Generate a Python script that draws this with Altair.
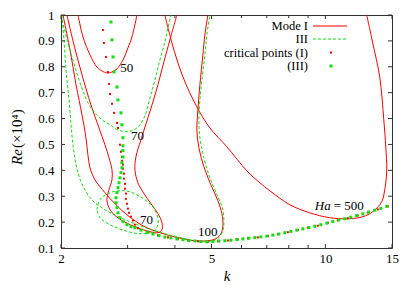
import altair as alt
import pandas as pd

W, H = 331, 233
FONT = "Liberation Serif, Times New Roman, serif"
RED = "#ff0000"
GREEN = "#11dd11"
AXC = "#333333"

# ---- axis ticks ----
x_labels = [2, 5, 10, 15]
x_minor = [3, 4, 6, 7, 8, 9]
y_ticks = [0.1, 0.2, 0.3, 0.4, 0.5, 0.6, 0.7, 0.8, 0.9, 1.0]

# ---- Mode I neutral curves (red, solid) ----
ha50_I_k = [2.218, 2.287, 2.386, 2.488, 2.566, 2.645, 2.728, 2.812, 2.916, 3.006, 3.080, 3.176]
ha50_I_re = [1.0, 0.915, 0.846, 0.799, 0.784, 0.776, 0.780, 0.792, 0.826, 0.873, 0.915, 1.0]

ha70_I_k = [2.074, 2.165, 2.273, 2.400, 2.520, 2.613, 2.678, 2.728, 2.728, 2.678, 2.645, 2.678, 2.762,
            2.934, 3.176, 3.437, 3.608, 3.697, 3.697, 3.608, 3.458, 3.314, 3.195, 3.137, 3.156, 3.254,
            3.395, 3.565, 3.742, 3.881, 4.050]
ha70_I_re = [1.0, 0.884, 0.769, 0.653, 0.564, 0.499, 0.449, 0.402, 0.364, 0.325, 0.287, 0.256, 0.229,
             0.202, 0.179, 0.163, 0.159, 0.171, 0.198, 0.233, 0.271, 0.310, 0.352, 0.402, 0.452, 0.518,
             0.603, 0.703, 0.819, 0.904, 1.0]

ha100_I_k = [2.024, 2.113, 2.192, 2.273, 2.328, 2.356, 2.386, 2.458, 2.613, 2.795, 3.006, 3.293, 3.652,
             4.075, 4.519, 4.891, 5.134, 5.293, 5.358, 5.325, 5.197, 4.981, 4.773, 4.630, 4.574, 4.602,
             4.658, 4.744, 4.802, 4.891]
ha100_I_re = [1.0, 0.865, 0.730, 0.614, 0.526, 0.460, 0.410, 0.364, 0.314, 0.267, 0.225, 0.186, 0.159,
              0.140, 0.128, 0.128, 0.136, 0.155, 0.186, 0.233, 0.283, 0.344, 0.414, 0.487, 0.556, 0.634,
              0.730, 0.846, 0.923, 1.0]

ha500_I_k = [3.765, 3.929, 4.201, 4.574, 4.950, 5.490, 6.200, 6.710, 7.130, 8.054, 9.094, 10.27, 11.60,
             12.56, 13.34, 14.09, 14.35, 14.53, 14.44, 14.27, 13.92, 13.34, 12.86]
ha500_I_re = [1.0, 0.892, 0.761, 0.645, 0.564, 0.491, 0.398, 0.352, 0.321, 0.267, 0.236, 0.217, 0.213,
              0.221, 0.240, 0.279, 0.325, 0.402, 0.491, 0.595, 0.761, 0.892, 1.0]

# ---- Mode III neutral curves (green, dashed) ----
ha50_III_k = [2.000, 2.037, 2.087, 2.151, 2.218, 2.287, 2.356, 2.458, 2.566, 2.695, 2.829, 2.988, 3.118,
              3.234, 3.334, 3.437, 3.543, 3.652, 3.765, 3.835, 3.905]
ha50_III_re = [1.0, 0.950, 0.892, 0.826, 0.761, 0.707, 0.661, 0.622, 0.595, 0.576, 0.556, 0.549, 0.556,
               0.576, 0.610, 0.680, 0.749, 0.826, 0.896, 0.950, 1.0]

ha70_III_k = [2.488, 2.535, 2.661, 2.829, 3.043, 3.273, 3.479, 3.586, 3.608, 3.500, 3.234, 2.952, 2.695,
              2.535, 2.488]
ha70_III_re = [0.248, 0.287, 0.310, 0.321, 0.317, 0.294, 0.263, 0.229, 0.190, 0.163, 0.155, 0.167, 0.190,
               0.217, 0.248]

ha100_III_k = [2.012, 2.037, 2.062, 2.100, 2.126, 2.151, 2.192, 2.259, 2.386, 2.535, 2.728, 2.988, 3.334,
               3.765, 4.252, 4.658, 5.042, 5.229, 5.358, 5.391, 5.358, 5.197, 4.950, 4.773, 4.658, 4.630,
               4.658, 4.715, 4.802, 4.861, 4.950]
ha100_III_re = [1.0, 0.904, 0.788, 0.672, 0.576, 0.499, 0.422, 0.356, 0.294, 0.260, 0.233, 0.206, 0.179,
                0.155, 0.136, 0.124, 0.128, 0.140, 0.167, 0.202, 0.248, 0.298, 0.371, 0.449, 0.526, 0.595,
                0.672, 0.749, 0.846, 0.923, 1.0]

# ---- critical points ----
crit_I_k = [2.582, 2.597, 2.629, 2.661, 2.678, 2.695, 2.728, 2.762, 2.812, 2.829, 2.863, 2.881, 2.898,
            2.898, 2.916, 2.916, 2.934, 2.934, 2.952, 2.952, 2.970, 2.970, 2.988, 3.006, 3.025, 3.062,
            3.099, 3.137,
            3.195, 3.395, 3.608, 3.835, 4.075, 4.330, 4.602, 4.891, 5.197, 5.523, 5.870, 6.238, 6.629,
            7.045, 7.487, 7.956, 8.455, 8.985, 9.549, 10.15, 10.78, 11.46, 12.18, 12.94, 13.76, 14.62]
crit_I_re = [0.942, 0.892, 0.838, 0.780, 0.734, 0.695, 0.657, 0.622, 0.583, 0.564, 0.499, 0.472, 0.452,
             0.437, 0.422, 0.406, 0.387, 0.368, 0.348, 0.329, 0.310, 0.290, 0.271, 0.252, 0.236, 0.221,
             0.206, 0.190,
             0.176, 0.160, 0.149, 0.141, 0.135, 0.130, 0.126, 0.124, 0.126, 0.129, 0.133, 0.137, 0.141,
             0.146, 0.153, 0.161, 0.170, 0.178, 0.186, 0.197, 0.207, 0.215, 0.226, 0.237, 0.249, 0.261]

crit_III_k = [2.711, 2.728, 2.745, 2.762, 2.812, 2.829, 2.881, 2.898, 2.916, 2.916, 2.916, 2.916, 2.898,
              2.898, 2.881, 2.863, 2.846, 2.829, 2.812, 2.795, 2.795, 2.812, 2.829, 2.863, 2.916, 2.988,
              3.062,
              3.137, 3.254, 3.375, 3.500, 3.630, 3.765, 3.905, 4.050, 4.201, 4.357, 4.519, 4.687, 4.861,
              5.042, 5.229, 5.424, 5.625, 5.834, 6.051, 6.276, 6.509, 6.751, 7.002, 7.262, 7.532, 7.812,
              8.102, 8.404, 8.716, 9.040, 9.376, 9.725, 10.09, 10.46, 10.85, 11.25, 11.67, 12.10, 12.56,
              13.02, 13.50, 14.01, 14.53]
crit_III_re = [0.973, 0.904, 0.838, 0.780, 0.722, 0.672, 0.622, 0.576, 0.526, 0.495, 0.476, 0.452, 0.429,
               0.410, 0.391, 0.371, 0.352, 0.333, 0.314, 0.294, 0.275, 0.256, 0.236, 0.217, 0.202, 0.190,
               0.182,
               0.178, 0.169, 0.161, 0.154, 0.148, 0.142, 0.139, 0.135, 0.132, 0.129, 0.127, 0.125, 0.124,
               0.125, 0.127, 0.128, 0.130, 0.133, 0.135, 0.138, 0.140, 0.143, 0.146, 0.150, 0.154, 0.159,
               0.164, 0.169, 0.174, 0.179, 0.184, 0.190, 0.196, 0.202, 0.208, 0.213, 0.219, 0.225, 0.232,
               0.239, 0.246, 0.253, 0.261]

# ---- curve labels ----
label_text = ["50", "70", "70", "100"]
label_k = [2.985, 3.185, 3.364, 4.89]
label_re = [0.796, 0.533, 0.209, 0.163]
ha_label_k = [10.33]
ha_label_re = [0.262]

legend_labels = ["Mode I", "III", "critical points (I)", "(III)"]


def curve_frame(name, ks, res):
    return pd.DataFrame({"k": ks, "Re": res, "curve": name, "i": list(range(len(ks)))})


lines_I = pd.concat([
    curve_frame("50", ha50_I_k, ha50_I_re),
    curve_frame("70", ha70_I_k, ha70_I_re),
    curve_frame("100", ha100_I_k, ha100_I_re),
    curve_frame("500", ha500_I_k, ha500_I_re),
])
lines_III = pd.concat([
    curve_frame("50", ha50_III_k, ha50_III_re),
    curve_frame("70", ha70_III_k, ha70_III_re),
    curve_frame("100", ha100_III_k, ha100_III_re),
])
crit_I = pd.DataFrame({"k": crit_I_k, "Re": crit_I_re})
crit_III = pd.DataFrame({"k": crit_III_k, "Re": crit_III_re})
labels = pd.DataFrame({"k": label_k, "Re": label_re, "text": label_text})
ha_lab = pd.DataFrame({"k": ha_label_k, "Re": ha_label_re})

xscale = alt.Scale(type="log", domain=[2, 15], nice=False)
yscale = alt.Scale(domain=[0.1, 1.0], nice=False, zero=False)

xaxis = alt.Axis(values=x_labels, format="d", ticks=False, grid=False, domain=False,
                 labelFont=FONT, labelFontSize=13, labelColor="black", labelPadding=4,
                 labelFlush=False, title="k", titleFont=FONT, titleFontSize=15,
                 titleFontStyle="italic", titleFontWeight="normal", titleColor="black",
                 titlePadding=3)
yaxis = alt.Axis(values=y_ticks,
                 labelExpr="datum.value > 0.999 ? '1' : format(datum.value, '.1f')",
                 ticks=False, grid=False, domain=False, labelFont=FONT, labelFontSize=13,
                 labelColor="black", labelPadding=7, title=None)

X = alt.X("k:Q", scale=xscale, axis=xaxis)
Y = alt.Y("Re:Q", scale=yscale, axis=yaxis)

red_lines = alt.Chart(lines_I).mark_line(
    color=RED, strokeWidth=1, interpolate="catmull-rom", clip=True
).encode(x=X, y=Y, detail="curve:N", order="i:Q")

green_lines = alt.Chart(lines_III).mark_line(
    color=GREEN, strokeWidth=1, strokeDash=[3, 2], interpolate="catmull-rom", clip=True
).encode(x=X, y=Y, detail="curve:N", order="i:Q")

red_pts = alt.Chart(crit_I).mark_square(color=RED, size=4, opacity=1).encode(x=X, y=Y)
green_pts = alt.Chart(crit_III).mark_square(color=GREEN, size=9, opacity=1).encode(x=X, y=Y)

lab_layer = alt.Chart(labels).mark_text(
    font=FONT, fontSize=13, color="black", align="center", baseline="middle"
).encode(x=X, y=Y, text="text:N")
ha_it = alt.Chart(ha_lab).mark_text(
    font=FONT, fontSize=13, fontStyle="italic", color="black", align="right", baseline="middle", text="Ha"
).encode(x=X, y=Y)
ha_eq = alt.Chart(ha_lab).mark_text(
    font=FONT, fontSize=13, color="black", align="left", baseline="middle", text="= 500", dx=3
).encode(x=X, y=Y)

# ticks (inward, mirrored)
ytick_df = pd.DataFrame({"Re": y_ticks})
xmaj_df = pd.DataFrame({"k": x_labels})
xmin_df = pd.DataFrame({"k": x_minor})
tick_layers = [
    alt.Chart(ytick_df).mark_rule(color=AXC, strokeWidth=1).encode(y=Y, x=alt.value(0), x2=alt.value(4)),
    alt.Chart(ytick_df).mark_rule(color=AXC, strokeWidth=1).encode(y=Y, x=alt.value(W - 4), x2=alt.value(W)),
    alt.Chart(xmaj_df).mark_rule(color=AXC, strokeWidth=1).encode(x=X, y=alt.value(H - 4), y2=alt.value(H)),
    alt.Chart(xmaj_df).mark_rule(color=AXC, strokeWidth=1).encode(x=X, y=alt.value(0), y2=alt.value(4)),
    alt.Chart(xmin_df).mark_rule(color=AXC, strokeWidth=1).encode(x=X, y=alt.value(H - 3), y2=alt.value(H)),
    alt.Chart(xmin_df).mark_rule(color=AXC, strokeWidth=1).encode(x=X, y=alt.value(0), y2=alt.value(3)),
]

one = pd.DataFrame({"a": [0]})
ytitle_re = alt.Chart(one).mark_text(
    text="Re", angle=270, align="left", baseline="middle", font=FONT, fontSize=15,
    fontStyle="italic", color="black"
).encode(x=alt.value(-44), y=alt.value(150))
ytitle_rest = alt.Chart(one).mark_text(
    text="(×10⁴)", angle=270, align="left", baseline="middle", font=FONT, fontSize=15, color="black"
).encode(x=alt.value(-44), y=alt.value(133))

# custom legend (gnuplot style: text left of the sample)
leg_rows = [10.5, 24, 37.5, 51]
leg_layers = []
for idx, lab in enumerate(legend_labels):
    leg_layers.append(
        alt.Chart(one).mark_text(text=lab, align="right", baseline="middle", font=FONT,
                                 fontSize=12.5, color="black").encode(x=alt.value(247), y=alt.value(leg_rows[idx]))
    )
leg_layers.append(alt.Chart(one).mark_rule(color=RED, strokeWidth=1).encode(
    x=alt.value(252), x2=alt.value(286), y=alt.value(11)))
leg_layers.append(alt.Chart(one).mark_rule(color=GREEN, strokeWidth=1, strokeDash=[3, 2]).encode(
    x=alt.value(252), x2=alt.value(286), y=alt.value(24)))
leg_layers.append(alt.Chart(one).mark_square(color=RED, size=4, opacity=1).encode(
    x=alt.value(270), y=alt.value(leg_rows[2])))
leg_layers.append(alt.Chart(one).mark_square(color=GREEN, size=9, opacity=1).encode(
    x=alt.value(270), y=alt.value(leg_rows[3])))

chart = alt.layer(
    red_lines, green_lines, red_pts, green_pts, lab_layer, ha_it, ha_eq,
    *tick_layers, ytitle_re, ytitle_rest, *leg_layers
).properties(
    width=W, height=H,
    autosize=alt.AutoSizeParams(type="none"),
    padding={"left": 53, "top": 7, "right": 15, "bottom": 35},
).configure_view(stroke=AXC, strokeWidth=1)

chart.save("out.html", embed_options={"renderer": "svg", "actions": False})
